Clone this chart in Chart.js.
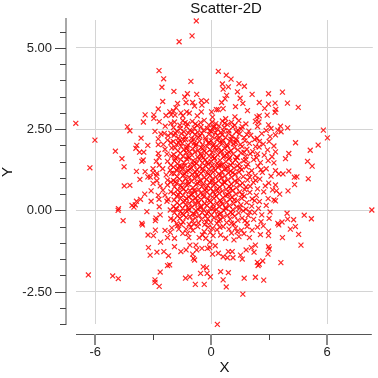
<!DOCTYPE html>
<html>
<head>
<meta charset="utf-8">
<script src="https://cdn.jsdelivr.net/npm/chart.js@4.4.0/dist/chart.umd.min.js"></script>
<style>
  html, body { margin: 0; padding: 0; background: #fff; }
</style>
</head>
<body>
<canvas id="scatterChart" width="378" height="378"></canvas>
<script>
// Ticks de los ejes
const xMajorTicks = [-6, 0, 6];
const xMajorLabels = ['-6', '0', '6'];
const xMinorTicks = [-3, 3];
const yMajorTicks = [5, 2.5, 0, -2.5];
const yMajorLabels = ['5.00', '2.50', '0.00', '-2.50'];
const yMinorTicks = [5.5, 4.5, 4, 3.5, 3, 2, 1.5, 1, 0.5, -0.5, -1, -1.5, -2, -3, -3.5];

// Puntos, por zona
const upperPoints = [
  [-0.77,5.83],[-0.99,5.37],[-1.66,5.19],
  [0.37,4.28],[0.78,4.16],[1.03,4.04],[-1.05,3.97],[0.58,3.89],[1.44,3.90],[1.72,3.82],[0.89,3.80],[0.62,3.73],
  [-1.93,3.66],[-1.23,3.59],[-0.75,3.57],[1.36,3.65],[2.12,3.57],[2.97,3.59],[0.80,3.54],[-1.37,3.49],[1.50,3.45],
  [0.72,3.43],[-0.51,3.38],[-0.24,3.36],[-1.74,3.29],[-1.30,3.32],[-0.96,3.32],[0.54,3.32],[1.64,3.29],[2.49,3.32],
  [2.97,3.27],[-0.86,3.21],[-0.48,3.24],[1.26,3.19],[1.88,3.07],[-1.82,3.16],[-1.95,3.06],[-1.57,3.00],[-1.27,3.03],
  [-1.13,2.99],[-0.51,3.03],[0.02,3.03],[0.27,3.10],[0.37,3.10],[0.62,3.13],[2.49,2.91],[2.37,2.88],[2.77,3.14],
  [2.90,2.93],[-0.72,2.91],[0.07,2.87],[0.75,2.82],[1.23,2.88],[-1.47,2.91],[-1.87,2.93],
  [-2.70,4.30],[-2.46,4.05],[-2.55,3.79],[-2.51,3.35],[-2.74,3.12],[-3.42,2.94],[-2.97,2.94],[-2.97,2.83],
  [-2.14,3.03],[-2.34,2.92],[-2.07,2.94],
  [3.69,3.64],[3.31,3.30],[3.95,3.30],[4.51,3.17],[3.35,3.11],[3.31,3.02]
];

const leftPoints = [
  [-7.01,2.68],[-6.02,2.16],[-6.28,1.31],[-4.96,1.82],[-4.62,1.59],[-4.51,1.34],[-4.50,0.75],[-4.21,0.77],
  [-4.82,0.00],[-4.80,0.05],[-4.56,-0.32],[-4.34,2.57],[-4.21,2.45],[-3.51,2.72],[-2.69,2.73],[-2.38,2.59],
  [-2.09,2.68],[-3.63,2.22],[-2.91,2.43],[-2.60,2.35],[-2.43,2.37],[-2.23,2.30],[-2.09,2.37],[-2.74,2.20],
  [-2.26,2.16],[-3.85,2.00],[-3.28,2.00],[-2.74,2.02],[-2.48,2.03],[-2.09,2.08],[-3.90,1.91],[-2.39,1.88],
  [-2.04,1.92],[-3.71,1.79],[-3.49,1.79],[-2.74,1.75],[-2.29,1.73],[-2.05,1.67],[-2.70,1.63],[-3.52,1.55],
  [-3.59,1.51],[-2.84,1.51],[-2.26,1.51],[-2.09,1.39],[-2.69,1.39],[-3.01,1.28],[-2.51,1.28],[-2.12,1.24],
  [-3.87,1.20],[-3.42,1.19],[-3.01,1.16],[-2.81,1.14],[-2.33,1.09],[-2.05,1.14],[-3.28,1.03],[-3.15,1.02],
  [-2.84,1.06],[-3.69,0.95],[-2.81,0.91],[-2.26,0.93],[-2.09,0.87],[-3.01,0.83],[-2.64,0.75],[-2.26,0.78],
  [-2.50,0.62],[-3.11,0.60],[-2.09,0.57],[-3.44,0.50],[-2.74,0.46],[-2.39,0.47],[-3.66,0.34],[-2.23,0.34],
  [-3.11,0.28],[-2.70,0.34],[-3.87,0.28],[-2.29,0.28],[-4.10,0.15],[-4.00,0.10],[-3.93,0.17],[-3.33,-0.04],
  [-2.69,0.11],[-2.64,-0.14],[-2.12,0.01],[-2.86,-0.24],[-2.89,-0.32],[-2.09,-0.26],[-3.59,-0.40],
  [-6.36,-1.99],[-5.10,-2.02],[-4.81,-2.10],[-3.56,-0.45],[-2.89,-0.61],[-3.27,-0.76],[-2.99,-0.78],
  [-2.39,-0.62],[-2.26,-0.84],[-2.12,-0.68],[-2.62,-0.98],[-3.25,-1.15],[-3.16,-1.38],[-2.81,-1.29],
  [-2.45,-1.27],[-2.21,-1.40],[-2.26,-1.70],[-2.15,-1.68],[-2.64,-1.90],[-2.91,-2.14],[-2.91,-2.22],
  [-2.69,-2.34],[-2.04,-0.54]
];

const lowerPoints = [
  [-1.30,-0.58],[-1.22,-0.71],[-1.90,-0.86],[-1.16,-0.84],[-0.70,-0.50],[-0.36,-0.66],[-0.45,-0.76],
  [-0.28,-0.86],[-0.62,-0.84],[0.07,-0.55],[0.62,-0.50],[0.92,-0.58],[1.26,-0.55],[1.57,-0.61],[1.86,-0.50],
  [2.12,-0.61],[2.97,-0.64],[2.97,-0.78],[0.49,-0.76],[0.75,-0.86],[1.18,-0.91],[1.44,-0.81],[1.98,-0.84],
  [-0.07,-0.98],[0.21,-1.09],[-1.57,-1.27],[-1.30,-1.22],[-1.90,-1.12],[-1.10,-1.07],[-0.79,-1.07],
  [-0.75,-1.22],[-0.48,-1.17],[-0.19,-1.17],[-0.96,-1.35],[-0.92,-1.48],[-0.86,-1.53],[-0.07,-1.15],
  [0.07,-1.35],[0.37,-1.32],[0.62,-1.43],[0.89,-1.27],[1.09,-1.27],[0.84,-1.46],[1.13,-1.46],[1.52,-1.38],
  [1.61,-1.50],[1.81,-1.22],[2.08,-1.15],[2.29,-1.07],[2.22,-1.29],[2.97,-1.12],[3.01,-1.19],[2.94,-1.35],
  [2.39,-1.60],[2.49,-1.66],[2.67,-1.56],[2.43,-1.70],[-0.41,-1.74],[-0.24,-1.77],[0.49,-1.89],[0.89,-1.92],
  [-0.55,-1.94],[-0.21,-1.94],[-0.04,-2.05],[-1.10,-2.05],[-1.33,-2.09],[0.62,-2.14],[1.71,-2.09],
  [2.29,-2.06],[2.72,-2.15],[-0.82,-2.28],[-0.36,-2.28],[0.78,-2.36],[1.64,-2.58],[0.32,-3.51],
  [-1.68,-0.58],[-1.47,-0.71],[-1.75,-0.48],[-1.05,-0.52],[-0.95,-0.62],[-0.15,-0.52],[0.30,-0.60],
  [0.45,-0.52],[1.05,-0.70],[1.70,-0.72],[2.40,-0.52],[0.10,-0.78],[-0.05,-0.68],[1.35,-0.66],[2.55,-0.75],
  [2.70,-0.48],
  [3.50,-0.45],[4.10,-0.58],[4.36,-0.50],[4.53,-0.74],[3.69,-0.84],[4.65,-1.07],[3.61,-1.61]
];

const rightPoints = [
  [3.59,2.59],[3.96,2.54],[5.81,2.47],[6.02,2.23],[3.45,2.47],[3.62,2.42],[3.33,2.32],[4.37,2.08],
  [5.54,2.01],[5.13,1.85],[3.25,1.98],[3.33,1.80],[4.02,1.75],[3.85,1.59],[4.99,1.51],[5.23,1.36],
  [3.25,1.46],[3.33,1.22],[3.50,1.12],[3.72,1.12],[4.02,1.21],[4.31,1.02],[4.44,1.03],[5.03,0.97],
  [3.33,0.78],[4.32,0.79],[3.38,0.60],[3.55,0.50],[3.98,0.60],[3.25,0.32],[3.33,0.29],[8.32,0.01],
  [3.93,-0.09],[4.82,-0.15],[3.96,-0.27],[4.27,-0.29],[5.19,-0.26],[3.67,-0.36],[3.45,-0.40]
];

// Nucleo denso (estimado por franjas)
const corePoints = [
  [-1.90,2.72],[-1.62,2.62],[-1.47,2.76],[-1.22,2.66],[-0.98,2.74],[-0.72,2.61],[-0.55,2.70],[-0.36,2.77],
  [-0.12,2.63],[0.05,2.72],[0.24,2.67],[0.41,2.60],[0.58,2.75],[0.84,2.64],[1.05,2.71],[1.22,2.62],
  [1.43,2.76],[1.80,2.66],[2.29,2.74],[2.47,2.72],[2.97,2.63],
  [-1.95,2.55],[-1.78,2.44],[-1.60,2.52],[-1.41,2.42],[-1.28,2.58],[-1.10,2.47],[-0.88,2.53],[-0.70,2.41],
  [-0.52,2.57],[-0.40,2.46],[-0.20,2.52],[0.02,2.43],[0.15,2.58],[0.33,2.49],[0.50,2.40],[0.68,2.55],
  [0.92,2.45],[1.12,2.57],[1.30,2.42],[1.55,2.50],[1.95,2.44],[2.40,2.58],[2.85,2.46],[3.10,2.52],
  [-1.92,2.31],[-1.70,2.22],[-1.55,2.36],[-1.35,2.27],[-1.18,2.38],[-1.02,2.21],[-0.85,2.33],[-0.66,2.25],
  [-0.48,2.37],[-0.30,2.23],[-0.12,2.34],[0.08,2.26],[0.22,2.39],[0.40,2.21],[0.56,2.32],[0.75,2.24],
  [0.90,2.37],[1.08,2.28],[1.28,2.20],[1.46,2.35],[1.70,2.24],[2.05,2.31],[2.38,2.22],[2.62,2.36],[3.05,2.27],
  [-1.96,2.12],[-1.80,2.03],[-1.63,2.16],[-1.50,2.06],[-1.32,2.18],[-1.20,2.01],[-1.05,2.10],[-0.90,2.19],
  [-0.78,2.04],[-0.60,2.13],[-0.45,2.02],[-0.28,2.17],[-0.15,2.07],[0.00,2.14],[0.14,2.03],[0.30,2.18],
  [0.45,2.08],[0.62,2.15],[0.80,2.01],[0.98,2.12],[1.15,2.05],[1.33,2.17],[1.52,2.03],[1.75,2.14],
  [1.98,2.06],[2.25,2.18],[2.70,2.04],[3.00,2.12],
  [-1.88,1.92],[-1.72,1.83],[-1.56,1.97],[-1.42,1.86],[-1.25,1.95],[-1.12,1.81],[-0.95,1.90],[-0.80,1.98],
  [-0.68,1.84],[-0.52,1.93],[-0.36,1.82],[-0.22,1.96],[-0.05,1.87],[0.10,1.99],[0.26,1.85],[0.38,1.94],
  [0.54,1.82],[0.70,1.91],[0.86,1.98],[1.02,1.84],[1.20,1.93],[1.38,1.86],[1.60,1.96],[1.85,1.88],
  [2.15,1.81],[2.48,1.95],[2.92,1.86],
  [-1.94,1.72],[-1.77,1.63],[-1.60,1.76],[-1.46,1.66],[-1.30,1.78],[-1.15,1.61],[-1.00,1.70],[-0.84,1.79],
  [-0.70,1.64],[-0.55,1.74],[-0.40,1.62],[-0.25,1.77],[-0.10,1.67],[0.04,1.78],[0.18,1.61],[0.34,1.71],
  [0.48,1.79],[0.64,1.65],[0.82,1.75],[0.96,1.62],[1.14,1.73],[1.32,1.64],[1.55,1.77],[1.78,1.66],
  [2.02,1.74],[2.35,1.62],[2.75,1.70],[3.15,1.65],
  [-1.90,1.52],[-1.74,1.43],[-1.58,1.56],[-1.40,1.47],[-1.26,1.58],[-1.08,1.41],[-0.94,1.53],[-0.76,1.44],
  [-0.62,1.57],[-0.46,1.46],[-0.32,1.55],[-0.16,1.42],[0.00,1.51],[0.16,1.59],[0.30,1.45],[0.46,1.54],
  [0.60,1.41],[0.76,1.50],[0.92,1.58],[1.10,1.46],[1.26,1.55],[1.45,1.43],[1.68,1.52],[1.90,1.42],
  [2.20,1.56],[2.55,1.47],[2.95,1.53],
  [-1.96,1.33],[-1.80,1.24],[-1.65,1.37],[-1.50,1.27],[-1.35,1.38],[-1.20,1.22],[-1.04,1.31],[-0.88,1.39],
  [-0.74,1.25],[-0.58,1.34],[-0.42,1.21],[-0.28,1.36],[-0.12,1.27],[0.06,1.38],[0.20,1.23],[0.36,1.32],
  [0.52,1.39],[0.68,1.26],[0.84,1.35],[1.00,1.21],[1.18,1.30],[1.36,1.37],[1.58,1.25],[1.82,1.34],
  [2.10,1.22],[2.42,1.36],[2.85,1.28],
  [-1.92,1.13],[-1.76,1.04],[-1.62,1.17],[-1.44,1.08],[-1.30,1.19],[-1.14,1.02],[-0.98,1.11],[-0.82,1.18],
  [-0.68,1.05],[-0.52,1.14],[-0.36,1.01],[-0.20,1.16],[-0.06,1.07],[0.10,1.18],[0.24,1.03],[0.40,1.12],
  [0.56,1.19],[0.72,1.06],[0.90,1.15],[1.06,1.02],[1.24,1.11],[1.44,1.18],[1.66,1.04],[1.94,1.14],
  [2.28,1.07],[2.65,1.17],[3.10,1.05],
  [-1.95,0.92],[-1.79,0.83],[-1.64,0.96],[-1.48,0.86],[-1.34,0.97],[-1.18,0.81],[-1.02,0.90],[-0.86,0.98],
  [-0.72,0.84],[-0.56,0.93],[-0.40,0.82],[-0.24,0.95],[-0.08,0.86],[0.08,0.97],[0.22,0.83],[0.38,0.91],
  [0.54,0.99],[0.70,0.85],[0.86,0.94],[1.04,0.81],[1.22,0.90],[1.40,0.97],[1.62,0.84],[1.88,0.93],
  [2.18,0.86],[2.52,0.96],[2.98,0.84],
  [-1.90,0.72],[-1.74,0.63],[-1.58,0.76],[-1.42,0.66],[-1.26,0.78],[-1.10,0.61],[-0.94,0.70],[-0.78,0.79],
  [-0.64,0.64],[-0.48,0.73],[-0.32,0.62],[-0.18,0.76],[-0.02,0.67],[0.14,0.78],[0.28,0.63],[0.44,0.72],
  [0.60,0.79],[0.78,0.65],[0.94,0.74],[1.12,0.61],[1.30,0.70],[1.50,0.77],[1.74,0.64],[2.02,0.74],
  [2.40,0.66],[2.80,0.75],[3.18,0.63],
  [-1.94,0.52],[-1.78,0.43],[-1.62,0.56],[-1.46,0.46],[-1.32,0.58],[-1.16,0.41],[-1.00,0.50],[-0.84,0.57],
  [-0.70,0.44],[-0.54,0.53],[-0.38,0.42],[-0.22,0.56],[-0.06,0.47],[0.10,0.58],[0.26,0.43],[0.42,0.52],
  [0.58,0.59],[0.74,0.45],[0.92,0.54],[1.08,0.41],[1.28,0.50],[1.48,0.57],[1.72,0.44],[2.00,0.55],
  [2.34,0.46],[2.72,0.57],
  [-1.92,0.32],[-1.76,0.23],[-1.60,0.36],[-1.44,0.26],[-1.28,0.37],[-1.12,0.22],[-0.96,0.31],[-0.80,0.38],
  [-0.66,0.24],[-0.50,0.33],[-0.34,0.21],[-0.18,0.35],[-0.02,0.26],[0.14,0.37],[0.30,0.22],[0.46,0.31],
  [0.62,0.39],[0.80,0.25],[0.98,0.34],[1.16,0.21],[1.36,0.30],[1.58,0.37],[1.84,0.24],[2.12,0.35],
  [2.50,0.27],[2.95,0.36],
  [-1.95,0.12],[-1.80,0.03],[-1.64,0.16],[-1.48,0.06],[-1.32,0.17],[-1.16,0.01],[-1.00,0.10],[-0.84,0.18],
  [-0.70,0.04],[-0.54,0.13],[-0.38,0.02],[-0.22,0.15],[-0.06,0.06],[0.10,0.17],[0.26,0.03],[0.42,0.11],
  [0.58,0.19],[0.76,0.05],[0.94,0.14],[1.12,0.02],[1.32,0.10],[1.54,0.17],[1.80,0.04],[2.10,0.13],
  [2.45,0.06],[2.85,0.15],
  [-1.90,-0.08],[-1.74,-0.17],[-1.58,-0.04],[-1.42,-0.14],[-1.26,-0.03],[-1.10,-0.19],[-0.94,-0.10],
  [-0.78,-0.02],[-0.62,-0.16],[-0.46,-0.07],[-0.30,-0.18],[-0.14,-0.05],[0.02,-0.14],[0.18,-0.03],
  [0.34,-0.17],[0.50,-0.09],[0.66,-0.01],[0.84,-0.15],[1.02,-0.06],[1.22,-0.18],[1.42,-0.08],[1.66,-0.02],
  [1.92,-0.16],[2.25,-0.07],[2.62,-0.14],[3.05,-0.05],
  [-1.94,-0.30],[-1.78,-0.41],[-1.62,-0.25],[-1.46,-0.36],[-1.30,-0.22],[-1.14,-0.43],[-0.98,-0.31],
  [-0.82,-0.24],[-0.66,-0.39],[-0.50,-0.28],[-0.34,-0.44],[-0.18,-0.26],[-0.02,-0.37],[0.14,-0.23],
  [0.30,-0.40],[0.46,-0.29],[0.62,-0.22],[0.80,-0.38],[0.98,-0.27],[1.18,-0.42],[1.38,-0.31],[1.60,-0.24],
  [1.86,-0.39],[2.20,-0.28],[2.58,-0.35],[3.00,-0.25]
];

// Segunda capa del nucleo, desfasada para romper la rejilla
const coreExtraPoints = [
  [-1.35,2.70],[-0.82,2.66],[0.12,2.55],[0.70,2.68],[1.60,2.58],
  [-1.86,2.38],[-1.45,2.18],[-0.97,2.42],[-0.58,2.29],[-0.05,2.45],[0.33,2.31],[0.65,2.44],[1.02,2.19],
  [1.38,2.47],[1.85,2.33],[2.50,2.12],
  [-1.68,2.08],[-1.28,1.89],[-0.88,2.07],[-0.44,1.90],[-0.10,2.09],[0.20,1.93],[0.58,2.06],[0.92,1.79],
  [1.28,2.08],[1.70,1.79],[2.30,1.96],
  [-1.85,1.60],[-1.52,1.35],[-1.20,1.66],[-0.85,1.49],[-0.50,1.68],[-0.20,1.48],[0.09,1.66],[0.40,1.38],
  [0.70,1.68],[1.02,1.39],[1.36,1.62],[1.80,1.56],[2.40,1.74],
  [-1.72,1.29],[-1.38,1.12],[-1.09,1.27],[-0.75,1.10],[-0.45,1.29],[-0.14,1.12],[0.15,1.30],[0.47,1.08],
  [0.78,1.28],[1.12,1.16],[1.50,1.31],[2.00,1.02],[2.58,1.25],
  [-1.86,0.88],[-1.52,0.70],[-1.20,0.89],[-0.88,0.62],[-0.60,0.87],[-0.26,0.68],[0.04,0.90],[0.35,0.66],
  [0.66,0.88],[1.00,0.67],[1.34,0.86],[1.80,0.72],[2.30,0.92],
  [-1.70,0.48],[-1.36,0.30],[-1.04,0.47],[-0.72,0.29],[-0.42,0.49],[-0.10,0.30],[0.20,0.49],[0.52,0.26],
  [0.85,0.48],[1.20,0.32],[1.60,0.48],[2.25,0.30],
  [-1.84,0.05],[-1.50,-0.10],[-1.18,0.08],[-0.86,-0.12],[-0.55,0.08],[-0.22,-0.10],[0.10,0.07],[0.42,-0.12],
  [0.74,0.09],[1.10,-0.11],[1.48,0.07],[2.00,-0.05],
  [-1.55,-0.44],[-0.90,-0.42],[-0.25,-0.36],[0.38,-0.33],[1.05,-0.40],[1.75,-0.32]
];

const allPoints = [].concat(upperPoints, leftPoints, lowerPoints, rightPoints, corePoints, coreExtraPoints)
  .map(p => ({ x: p[0], y: p[1] }));

const FUENTE = '"Liberation Sans", Arial, sans-serif';

// Ejes desplazados (linea, marcas y etiquetas) fuera del area del grafico
const ejesDesplazados = {
  id: 'ejesDesplazados',
  afterDraw(chart) {
    const { ctx, chartArea: area } = chart;
    const sx = chart.scales.x;
    const sy = chart.scales.y;
    const yAxisX = area.left - 10;
    const xAxisY = area.bottom + 10;
    const linea = (x1, y1, x2, y2) => { ctx.beginPath(); ctx.moveTo(x1, y1); ctx.lineTo(x2, y2); ctx.stroke(); };

    ctx.save();
    // eje Y
    ctx.strokeStyle = '#a8a8a8';
    ctx.lineWidth = 2;
    linea(yAxisX, area.top - 2, yAxisX, sy.getPixelForValue(-3.5) + 1);
    ctx.strokeStyle = '#444';
    ctx.lineWidth = 1;
    yMajorTicks.forEach(v => {
      const py = Math.round(sy.getPixelForValue(v)) + 0.5;
      linea(yAxisX - 11, py, yAxisX, py);
    });
    yMinorTicks.forEach(v => {
      const py = Math.round(sy.getPixelForValue(v)) + 0.5;
      linea(yAxisX - 6, py, yAxisX, py);
    });
    ctx.fillStyle = '#222';
    ctx.font = '13px ' + FUENTE;
    ctx.textAlign = 'right';
    ctx.textBaseline = 'middle';
    yMajorTicks.forEach((v, i) => ctx.fillText(yMajorLabels[i], yAxisX - 14, sy.getPixelForValue(v) + 0.5));

    // eje X
    ctx.strokeStyle = '#555';
    ctx.lineWidth = 1;
    linea(area.left, xAxisY + 0.5, area.right - 1, xAxisY + 0.5);
    ctx.strokeStyle = '#888';
    ctx.lineWidth = 2;
    xMajorTicks.forEach(v => {
      const px = Math.round(sx.getPixelForValue(v));
      linea(px, xAxisY, px, xAxisY + 11);
    });
    ctx.strokeStyle = '#444';
    ctx.lineWidth = 1;
    xMinorTicks.forEach(v => {
      const px = Math.round(sx.getPixelForValue(v)) + 0.5;
      linea(px, xAxisY, px, xAxisY + 6);
    });
    ctx.textAlign = 'center';
    xMajorTicks.forEach((v, i) => ctx.fillText(xMajorLabels[i], sx.getPixelForValue(v), xAxisY + 18));

    // titulos de ejes
    ctx.fillStyle = '#111';
    ctx.font = '15px ' + FUENTE;
    ctx.fillText('X', (area.left + area.right) / 2, 368);
    ctx.save();
    ctx.translate(8, (area.top + area.bottom) / 2);
    ctx.rotate(-Math.PI / 2);
    ctx.fillText('Y', 0, 0);
    ctx.restore();
    ctx.restore();
  }
};

const ctx = document.getElementById('scatterChart').getContext('2d');
new Chart(ctx, {
  type: 'scatter',
  data: {
    datasets: [{
      label: 'Scatter-2D',
      data: allPoints,
      pointStyle: 'crossRot',
      pointRadius: 3.5,
      borderWidth: 1.2,
      borderColor: 'rgba(255, 0, 0, 0.85)',
      backgroundColor: 'rgba(255, 0, 0, 0.85)',
      clip: 4
    }]
  },
  options: {
    responsive: false,
    animation: false,
    layout: { padding: { left: 76, right: 2, top: 0, bottom: 54 } },
    plugins: {
      legend: { display: false },
      tooltip: { enabled: false },
      title: {
        display: true,
        text: 'Scatter-2D',
        color: '#111',
        font: { family: FUENTE, size: 15, weight: 'normal' },
        padding: { top: 0, bottom: 2 }
      }
    },
    scales: {
      x: {
        type: 'linear',
        min: -7,
        max: 8.37,
        afterBuildTicks: s => { s.ticks = xMajorTicks.map(v => ({ value: v })); },
        ticks: { display: false },
        grid: { color: '#d4d4d4', drawTicks: false },
        border: { display: false }
      },
      y: {
        type: 'linear',
        min: -3.5,
        max: 5.86,
        afterBuildTicks: s => { s.ticks = yMajorTicks.map(v => ({ value: v })); },
        ticks: { display: false },
        grid: { color: '#d4d4d4', drawTicks: false },
        border: { display: false }
      }
    }
  },
  plugins: [ejesDesplazados]
});
</script>
</body>
</html>
